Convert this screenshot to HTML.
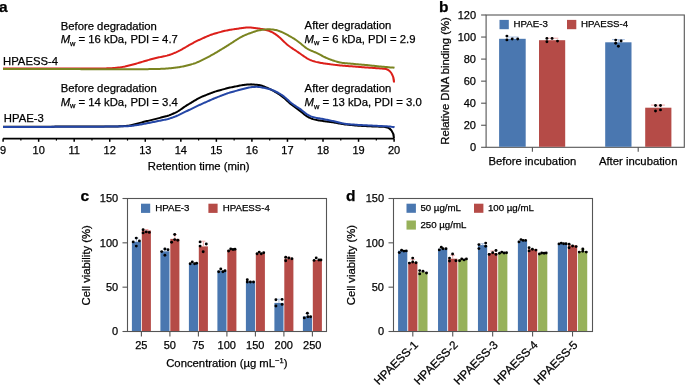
<!DOCTYPE html>
<html><head><meta charset="utf-8"><style>
html,body{margin:0;padding:0;background:#fff;width:685px;height:385px;overflow:hidden}
svg{display:block;will-change:transform}
text{font-family:"Liberation Sans", sans-serif;fill:#000;stroke:#000;stroke-width:0.25px}
</style></head><body>
<svg width="685" height="385" viewBox="0 0 685 385">
<text x="-1.10" y="11.60" font-size="15.5" text-anchor="start" font-weight="bold" >a</text>
<path d="M3.00,68.50 L4.00,68.50 L5.00,68.50 L6.00,68.50 L7.00,68.50 L8.00,68.50 L9.00,68.50 L10.00,68.50 L11.00,68.50 L12.00,68.50 L13.00,68.50 L14.00,68.50 L15.00,68.50 L16.00,68.50 L17.00,68.50 L18.00,68.50 L19.00,68.50 L20.00,68.50 L21.00,68.50 L22.00,68.50 L23.00,68.50 L24.00,68.50 L25.00,68.50 L26.00,68.50 L27.00,68.50 L28.00,68.50 L29.00,68.50 L30.00,68.50 L31.00,68.50 L32.00,68.50 L33.00,68.50 L34.00,68.50 L35.00,68.50 L36.00,68.50 L37.00,68.50 L38.00,68.50 L39.00,68.50 L40.00,68.50 L41.00,68.50 L42.00,68.50 L43.00,68.50 L44.00,68.50 L45.00,68.50 L46.00,68.50 L47.00,68.50 L48.00,68.50 L49.00,68.50 L50.00,68.50 L51.00,68.50 L52.00,68.50 L53.00,68.50 L54.00,68.50 L55.00,68.50 L56.00,68.50 L57.00,68.50 L58.00,68.50 L59.00,68.50 L60.00,68.50 L61.00,68.50 L62.00,68.50 L63.00,68.50 L64.00,68.50 L65.00,68.50 L66.00,68.50 L67.00,68.50 L68.00,68.50 L69.00,68.50 L70.00,68.50 L71.00,68.50 L72.00,68.50 L73.00,68.50 L74.00,68.50 L75.00,68.50 L76.00,68.50 L77.00,68.50 L78.00,68.50 L79.00,68.50 L80.00,68.50 L81.00,68.50 L82.00,68.50 L83.00,68.50 L84.00,68.50 L85.00,68.50 L86.00,68.50 L87.00,68.50 L88.00,68.50 L89.00,68.50 L90.00,68.50 L91.00,68.50 L92.00,68.50 L93.00,68.50 L94.00,68.50 L95.00,68.50 L96.00,68.50 L97.00,68.50 L98.00,68.50 L99.00,68.50 L100.00,68.50 L101.00,68.49 L102.00,68.49 L103.00,68.47 L104.00,68.46 L105.00,68.44 L106.00,68.41 L107.00,68.37 L108.00,68.33 L109.00,68.29 L110.00,68.24 L111.00,68.19 L112.00,68.13 L113.00,68.06 L114.00,67.99 L115.00,67.91 L116.00,67.82 L117.00,67.72 L118.00,67.61 L119.00,67.50 L120.00,67.37 L121.00,67.22 L122.00,67.07 L123.00,66.89 L124.00,66.70 L125.00,66.50 L126.00,66.27 L127.00,66.04 L128.00,65.79 L129.00,65.54 L130.00,65.29 L131.00,65.03 L132.00,64.76 L133.00,64.50 L134.00,64.22 L135.00,63.95 L136.00,63.67 L137.00,63.38 L138.00,63.09 L139.00,62.80 L140.00,62.50 L141.00,62.20 L142.00,61.91 L143.00,61.61 L144.00,61.31 L145.00,61.01 L146.00,60.72 L147.00,60.42 L148.00,60.13 L149.00,59.84 L150.00,59.55 L151.00,59.26 L152.00,58.98 L153.00,58.71 L154.00,58.44 L155.00,58.19 L156.00,57.95 L157.00,57.73 L158.00,57.52 L159.00,57.32 L160.00,57.13 L161.00,56.94 L162.00,56.75 L163.00,56.55 L164.00,56.34 L165.00,56.11 L166.00,55.86 L167.00,55.60 L168.00,55.31 L169.00,55.01 L170.00,54.68 L171.00,54.34 L172.00,53.98 L173.00,53.59 L174.00,53.19 L175.00,52.77 L176.00,52.34 L177.00,51.88 L178.00,51.41 L179.00,50.91 L180.00,50.40 L181.00,49.86 L182.00,49.31 L183.00,48.74 L184.00,48.16 L185.00,47.58 L186.00,46.99 L187.00,46.40 L188.00,45.82 L189.00,45.24 L190.00,44.67 L191.00,44.11 L192.00,43.55 L193.00,43.01 L194.00,42.47 L195.00,41.95 L196.00,41.44 L197.00,40.95 L198.00,40.47 L199.00,40.00 L200.00,39.54 L201.00,39.08 L202.00,38.63 L203.00,38.18 L204.00,37.73 L205.00,37.29 L206.00,36.85 L207.00,36.41 L208.00,35.98 L209.00,35.57 L210.00,35.17 L211.00,34.80 L212.00,34.45 L213.00,34.11 L214.00,33.80 L215.00,33.50 L216.00,33.22 L217.00,32.94 L218.00,32.66 L219.00,32.39 L220.00,32.12 L221.00,31.85 L222.00,31.59 L223.00,31.33 L224.00,31.08 L225.00,30.84 L226.00,30.61 L227.00,30.40 L228.00,30.20 L229.00,30.02 L230.00,29.85 L231.00,29.69 L232.00,29.53 L233.00,29.38 L234.00,29.23 L235.00,29.08 L236.00,28.94 L237.00,28.79 L238.00,28.64 L239.00,28.49 L240.00,28.35 L241.00,28.20 L242.00,28.06 L243.00,27.92 L244.00,27.79 L245.00,27.68 L246.00,27.58 L247.00,27.51 L248.00,27.47 L249.00,27.47 L250.00,27.50 L251.00,27.57 L252.00,27.66 L253.00,27.77 L254.00,27.89 L255.00,28.02 L256.00,28.16 L257.00,28.30 L258.00,28.44 L259.00,28.59 L260.00,28.74 L261.00,28.90 L262.00,29.07 L263.00,29.25 L264.00,29.46 L265.00,29.68 L266.00,29.93 L267.00,30.21 L268.00,30.53 L269.00,30.88 L270.00,31.27 L271.00,31.71 L272.00,32.19 L273.00,32.72 L274.00,33.30 L275.00,33.93 L276.00,34.61 L277.00,35.34 L278.00,36.13 L279.00,36.97 L280.00,37.85 L281.00,38.77 L282.00,39.73 L283.00,40.70 L284.00,41.67 L285.00,42.62 L286.00,43.54 L287.00,44.42 L288.00,45.25 L289.00,46.03 L290.00,46.77 L291.00,47.47 L292.00,48.15 L293.00,48.81 L294.00,49.47 L295.00,50.13 L296.00,50.79 L297.00,51.46 L298.00,52.14 L299.00,52.83 L300.00,53.54 L301.00,54.25 L302.00,54.96 L303.00,55.67 L304.00,56.36 L305.00,57.03 L306.00,57.67 L307.00,58.28 L308.00,58.84 L309.00,59.36 L310.00,59.83 L311.00,60.25 L312.00,60.64 L313.00,60.99 L314.00,61.30 L315.00,61.59 L316.00,61.86 L317.00,62.10 L318.00,62.33 L319.00,62.54 L320.00,62.73 L321.00,62.92 L322.00,63.09 L323.00,63.25 L324.00,63.40 L325.00,63.55 L326.00,63.69 L327.00,63.83 L328.00,63.97 L329.00,64.11 L330.00,64.24 L331.00,64.37 L332.00,64.50 L333.00,64.63 L334.00,64.75 L335.00,64.87 L336.00,64.99 L337.00,65.11 L338.00,65.22 L339.00,65.33 L340.00,65.44 L341.00,65.53 L342.00,65.62 L343.00,65.71 L344.00,65.78 L345.00,65.86 L346.00,65.93 L347.00,66.00 L348.00,66.07 L349.00,66.15 L350.00,66.22 L351.00,66.29 L352.00,66.37 L353.00,66.45 L354.00,66.53 L355.00,66.61 L356.00,66.69 L357.00,66.77 L358.00,66.85 L359.00,66.93 L360.00,67.01 L361.00,67.09 L362.00,67.17 L363.00,67.25 L364.00,67.33 L365.00,67.40 L366.00,67.48 L367.00,67.55 L368.00,67.61 L369.00,67.68 L370.00,67.74 L371.00,67.81 L372.00,67.87 L373.00,67.93 L374.00,68.00 L375.00,68.06 L376.00,68.13 L377.00,68.20 L378.00,68.28 L379.00,68.36 L380.00,68.45 L381.00,68.53 L382.00,68.62 L383.00,68.69 L384.00,68.75 A10,13.6 0 0 1 394.0,82.5" fill="none" stroke="#dc1f1a" stroke-width="2"/>
<path d="M3.00,68.90 L4.00,68.91 L5.00,68.91 L6.00,68.91 L7.00,68.91 L8.00,68.91 L9.00,68.92 L10.00,68.92 L11.00,68.92 L12.00,68.93 L13.00,68.93 L14.00,68.93 L15.00,68.94 L16.00,68.94 L17.00,68.94 L18.00,68.94 L19.00,68.95 L20.00,68.95 L21.00,68.95 L22.00,68.96 L23.00,68.96 L24.00,68.96 L25.00,68.96 L26.00,68.97 L27.00,68.97 L28.00,68.97 L29.00,68.98 L30.00,68.98 L31.00,68.98 L32.00,68.98 L33.00,68.99 L34.00,68.99 L35.00,68.99 L36.00,69.00 L37.00,69.00 L38.00,69.00 L39.00,69.01 L40.00,69.01 L41.00,69.01 L42.00,69.01 L43.00,69.02 L44.00,69.02 L45.00,69.02 L46.00,69.03 L47.00,69.03 L48.00,69.03 L49.00,69.03 L50.00,69.04 L51.00,69.04 L52.00,69.04 L53.00,69.05 L54.00,69.05 L55.00,69.05 L56.00,69.05 L57.00,69.06 L58.00,69.06 L59.00,69.06 L60.00,69.07 L61.00,69.07 L62.00,69.07 L63.00,69.08 L64.00,69.08 L65.00,69.08 L66.00,69.08 L67.00,69.09 L68.00,69.09 L69.00,69.09 L70.00,69.10 L71.00,69.10 L72.00,69.10 L73.00,69.10 L74.00,69.11 L75.00,69.11 L76.00,69.11 L77.00,69.12 L78.00,69.12 L79.00,69.12 L80.00,69.12 L81.00,69.13 L82.00,69.13 L83.00,69.13 L84.00,69.14 L85.00,69.14 L86.00,69.14 L87.00,69.15 L88.00,69.15 L89.00,69.15 L90.00,69.15 L91.00,69.16 L92.00,69.16 L93.00,69.16 L94.00,69.17 L95.00,69.17 L96.00,69.17 L97.00,69.17 L98.00,69.18 L99.00,69.18 L100.00,69.18 L101.00,69.19 L102.00,69.19 L103.00,69.19 L104.00,69.19 L105.00,69.20 L106.00,69.20 L107.00,69.20 L108.00,69.21 L109.00,69.21 L110.00,69.21 L111.00,69.22 L112.00,69.22 L113.00,69.22 L114.00,69.22 L115.00,69.23 L116.00,69.23 L117.00,69.23 L118.00,69.24 L119.00,69.24 L120.00,69.24 L121.00,69.24 L122.00,69.25 L123.00,69.25 L124.00,69.25 L125.00,69.26 L126.00,69.26 L127.00,69.26 L128.00,69.26 L129.00,69.27 L130.00,69.27 L131.00,69.27 L132.00,69.28 L133.00,69.28 L134.00,69.28 L135.00,69.28 L136.00,69.28 L137.00,69.28 L138.00,69.28 L139.00,69.28 L140.00,69.27 L141.00,69.26 L142.00,69.25 L143.00,69.23 L144.00,69.22 L145.00,69.20 L146.00,69.18 L147.00,69.16 L148.00,69.14 L149.00,69.12 L150.00,69.10 L151.00,69.08 L152.00,69.06 L153.00,69.04 L154.00,69.02 L155.00,69.00 L156.00,68.98 L157.00,68.96 L158.00,68.94 L159.00,68.92 L160.00,68.89 L161.00,68.87 L162.00,68.83 L163.00,68.80 L164.00,68.75 L165.00,68.69 L166.00,68.62 L167.00,68.54 L168.00,68.45 L169.00,68.36 L170.00,68.26 L171.00,68.16 L172.00,68.05 L173.00,67.94 L174.00,67.83 L175.00,67.72 L176.00,67.60 L177.00,67.48 L178.00,67.34 L179.00,67.19 L180.00,67.02 L181.00,66.83 L182.00,66.63 L183.00,66.41 L184.00,66.18 L185.00,65.94 L186.00,65.69 L187.00,65.45 L188.00,65.20 L189.00,64.94 L190.00,64.69 L191.00,64.42 L192.00,64.15 L193.00,63.86 L194.00,63.54 L195.00,63.20 L196.00,62.83 L197.00,62.42 L198.00,61.99 L199.00,61.54 L200.00,61.07 L201.00,60.58 L202.00,60.09 L203.00,59.60 L204.00,59.10 L205.00,58.60 L206.00,58.09 L207.00,57.59 L208.00,57.07 L209.00,56.55 L210.00,56.02 L211.00,55.48 L212.00,54.93 L213.00,54.36 L214.00,53.79 L215.00,53.20 L216.00,52.61 L217.00,52.02 L218.00,51.42 L219.00,50.82 L220.00,50.22 L221.00,49.62 L222.00,49.01 L223.00,48.41 L224.00,47.80 L225.00,47.19 L226.00,46.57 L227.00,45.94 L228.00,45.31 L229.00,44.67 L230.00,44.03 L231.00,43.38 L232.00,42.73 L233.00,42.08 L234.00,41.43 L235.00,40.78 L236.00,40.13 L237.00,39.48 L238.00,38.85 L239.00,38.23 L240.00,37.63 L241.00,37.06 L242.00,36.52 L243.00,36.02 L244.00,35.55 L245.00,35.12 L246.00,34.71 L247.00,34.31 L248.00,33.93 L249.00,33.56 L250.00,33.19 L251.00,32.83 L252.00,32.47 L253.00,32.11 L254.00,31.77 L255.00,31.44 L256.00,31.13 L257.00,30.84 L258.00,30.59 L259.00,30.37 L260.00,30.17 L261.00,30.00 L262.00,29.85 L263.00,29.72 L264.00,29.60 L265.00,29.50 L266.00,29.42 L267.00,29.35 L268.00,29.32 L269.00,29.31 L270.00,29.33 L271.00,29.39 L272.00,29.47 L273.00,29.58 L274.00,29.72 L275.00,29.89 L276.00,30.09 L277.00,30.33 L278.00,30.62 L279.00,30.96 L280.00,31.33 L281.00,31.75 L282.00,32.19 L283.00,32.66 L284.00,33.14 L285.00,33.64 L286.00,34.15 L287.00,34.68 L288.00,35.21 L289.00,35.77 L290.00,36.33 L291.00,36.90 L292.00,37.49 L293.00,38.10 L294.00,38.72 L295.00,39.36 L296.00,40.03 L297.00,40.72 L298.00,41.45 L299.00,42.22 L300.00,43.02 L301.00,43.84 L302.00,44.68 L303.00,45.52 L304.00,46.34 L305.00,47.12 L306.00,47.85 L307.00,48.52 L308.00,49.12 L309.00,49.67 L310.00,50.16 L311.00,50.60 L312.00,51.02 L313.00,51.42 L314.00,51.83 L315.00,52.24 L316.00,52.68 L317.00,53.15 L318.00,53.64 L319.00,54.16 L320.00,54.69 L321.00,55.23 L322.00,55.75 L323.00,56.27 L324.00,56.77 L325.00,57.26 L326.00,57.73 L327.00,58.17 L328.00,58.60 L329.00,59.02 L330.00,59.41 L331.00,59.78 L332.00,60.14 L333.00,60.48 L334.00,60.81 L335.00,61.12 L336.00,61.41 L337.00,61.69 L338.00,61.95 L339.00,62.19 L340.00,62.41 L341.00,62.61 L342.00,62.79 L343.00,62.94 L344.00,63.07 L345.00,63.18 L346.00,63.28 L347.00,63.37 L348.00,63.45 L349.00,63.53 L350.00,63.62 L351.00,63.70 L352.00,63.78 L353.00,63.87 L354.00,63.95 L355.00,64.04 L356.00,64.13 L357.00,64.21 L358.00,64.30 L359.00,64.39 L360.00,64.48 L361.00,64.56 L362.00,64.65 L363.00,64.74 L364.00,64.84 L365.00,64.93 L366.00,65.03 L367.00,65.12 L368.00,65.23 L369.00,65.33 L370.00,65.43 L371.00,65.54 L372.00,65.65 L373.00,65.75 L374.00,65.86 L375.00,65.97 L376.00,66.07 L377.00,66.18 L378.00,66.28 L379.00,66.38 L380.00,66.48 L381.00,66.57 L382.00,66.67 L383.00,66.76 L384.00,66.85 L385.00,66.94 L386.00,67.03 L387.00,67.12 L388.00,67.21 L389.00,67.30 L390.00,67.38 L391.00,67.46 L392.00,67.53 L393.00,67.59 L394.00,67.64 L394.50,67.80" fill="none" stroke="#7a8420" stroke-width="2"/>
<path d="M3.00,126.80 L4.00,126.80 L5.00,126.79 L6.00,126.79 L7.00,126.79 L8.00,126.78 L9.00,126.78 L10.00,126.78 L11.00,126.77 L12.00,126.77 L13.00,126.77 L14.00,126.76 L15.00,126.76 L16.00,126.76 L17.00,126.75 L18.00,126.75 L19.00,126.75 L20.00,126.74 L21.00,126.74 L22.00,126.74 L23.00,126.73 L24.00,126.73 L25.00,126.72 L26.00,126.72 L27.00,126.72 L28.00,126.71 L29.00,126.71 L30.00,126.71 L31.00,126.70 L32.00,126.70 L33.00,126.70 L34.00,126.69 L35.00,126.69 L36.00,126.69 L37.00,126.68 L38.00,126.68 L39.00,126.68 L40.00,126.67 L41.00,126.67 L42.00,126.67 L43.00,126.66 L44.00,126.66 L45.00,126.66 L46.00,126.65 L47.00,126.65 L48.00,126.65 L49.00,126.64 L50.00,126.64 L51.00,126.64 L52.00,126.63 L53.00,126.63 L54.00,126.63 L55.00,126.62 L56.00,126.62 L57.00,126.62 L58.00,126.61 L59.00,126.61 L60.00,126.61 L61.00,126.60 L62.00,126.60 L63.00,126.59 L64.00,126.59 L65.00,126.59 L66.00,126.58 L67.00,126.58 L68.00,126.58 L69.00,126.57 L70.00,126.57 L71.00,126.57 L72.00,126.56 L73.00,126.56 L74.00,126.56 L75.00,126.55 L76.00,126.55 L77.00,126.55 L78.00,126.54 L79.00,126.54 L80.00,126.54 L81.00,126.53 L82.00,126.53 L83.00,126.53 L84.00,126.52 L85.00,126.52 L86.00,126.52 L87.00,126.51 L88.00,126.51 L89.00,126.51 L90.00,126.50 L91.00,126.50 L92.00,126.50 L93.00,126.49 L94.00,126.49 L95.00,126.49 L96.00,126.48 L97.00,126.48 L98.00,126.48 L99.00,126.47 L100.00,126.47 L101.00,126.46 L102.00,126.46 L103.00,126.46 L104.00,126.45 L105.00,126.45 L106.00,126.45 L107.00,126.44 L108.00,126.44 L109.00,126.44 L110.00,126.43 L111.00,126.43 L112.00,126.43 L113.00,126.42 L114.00,126.42 L115.00,126.42 L116.00,126.41 L117.00,126.40 L118.00,126.39 L119.00,126.37 L120.00,126.34 L121.00,126.29 L122.00,126.24 L123.00,126.17 L124.00,126.10 L125.00,126.03 L126.00,125.95 L127.00,125.86 L128.00,125.75 L129.00,125.61 L130.00,125.44 L131.00,125.23 L132.00,125.00 L133.00,124.75 L134.00,124.49 L135.00,124.22 L136.00,123.95 L137.00,123.68 L138.00,123.41 L139.00,123.14 L140.00,122.88 L141.00,122.61 L142.00,122.35 L143.00,122.09 L144.00,121.84 L145.00,121.59 L146.00,121.34 L147.00,121.09 L148.00,120.85 L149.00,120.60 L150.00,120.35 L151.00,120.11 L152.00,119.86 L153.00,119.61 L154.00,119.37 L155.00,119.12 L156.00,118.87 L157.00,118.61 L158.00,118.36 L159.00,118.10 L160.00,117.85 L161.00,117.59 L162.00,117.34 L163.00,117.08 L164.00,116.82 L165.00,116.56 L166.00,116.29 L167.00,116.00 L168.00,115.68 L169.00,115.34 L170.00,114.96 L171.00,114.56 L172.00,114.15 L173.00,113.72 L174.00,113.28 L175.00,112.83 L176.00,112.35 L177.00,111.82 L178.00,111.25 L179.00,110.63 L180.00,109.96 L181.00,109.27 L182.00,108.57 L183.00,107.87 L184.00,107.18 L185.00,106.50 L186.00,105.85 L187.00,105.21 L188.00,104.59 L189.00,103.98 L190.00,103.37 L191.00,102.77 L192.00,102.17 L193.00,101.57 L194.00,100.97 L195.00,100.37 L196.00,99.78 L197.00,99.19 L198.00,98.62 L199.00,98.09 L200.00,97.58 L201.00,97.12 L202.00,96.68 L203.00,96.26 L204.00,95.86 L205.00,95.46 L206.00,95.06 L207.00,94.66 L208.00,94.26 L209.00,93.87 L210.00,93.47 L211.00,93.08 L212.00,92.70 L213.00,92.33 L214.00,91.98 L215.00,91.65 L216.00,91.34 L217.00,91.05 L218.00,90.76 L219.00,90.49 L220.00,90.21 L221.00,89.94 L222.00,89.66 L223.00,89.39 L224.00,89.12 L225.00,88.84 L226.00,88.58 L227.00,88.31 L228.00,88.06 L229.00,87.82 L230.00,87.59 L231.00,87.38 L232.00,87.17 L233.00,86.97 L234.00,86.77 L235.00,86.57 L236.00,86.37 L237.00,86.17 L238.00,85.97 L239.00,85.78 L240.00,85.58 L241.00,85.39 L242.00,85.21 L243.00,85.05 L244.00,84.91 L245.00,84.78 L246.00,84.67 L247.00,84.57 L248.00,84.48 L249.00,84.42 L250.00,84.38 L251.00,84.37 L252.00,84.40 L253.00,84.46 L254.00,84.54 L255.00,84.63 L256.00,84.72 L257.00,84.83 L258.00,84.95 L259.00,85.09 L260.00,85.27 L261.00,85.50 L262.00,85.80 L263.00,86.14 L264.00,86.52 L265.00,86.92 L266.00,87.34 L267.00,87.76 L268.00,88.19 L269.00,88.64 L270.00,89.11 L271.00,89.60 L272.00,90.11 L273.00,90.65 L274.00,91.20 L275.00,91.77 L276.00,92.35 L277.00,92.96 L278.00,93.58 L279.00,94.23 L280.00,94.91 L281.00,95.63 L282.00,96.38 L283.00,97.16 L284.00,97.98 L285.00,98.83 L286.00,99.73 L287.00,100.65 L288.00,101.59 L289.00,102.52 L290.00,103.41 L291.00,104.26 L292.00,105.06 L293.00,105.82 L294.00,106.54 L295.00,107.25 L296.00,107.96 L297.00,108.67 L298.00,109.38 L299.00,110.12 L300.00,110.88 L301.00,111.66 L302.00,112.48 L303.00,113.32 L304.00,114.15 L305.00,114.95 L306.00,115.70 L307.00,116.37 L308.00,116.96 L309.00,117.49 L310.00,117.96 L311.00,118.38 L312.00,118.76 L313.00,119.09 L314.00,119.38 L315.00,119.64 L316.00,119.87 L317.00,120.08 L318.00,120.26 L319.00,120.42 L320.00,120.57 L321.00,120.71 L322.00,120.86 L323.00,121.01 L324.00,121.15 L325.00,121.30 L326.00,121.45 L327.00,121.59 L328.00,121.72 L329.00,121.85 L330.00,121.98 L331.00,122.11 L332.00,122.24 L333.00,122.37 L334.00,122.51 L335.00,122.67 L336.00,122.83 L337.00,123.02 L338.00,123.21 L339.00,123.40 L340.00,123.59 L341.00,123.78 L342.00,123.96 L343.00,124.12 L344.00,124.26 L345.00,124.39 L346.00,124.50 L347.00,124.61 L348.00,124.71 L349.00,124.82 L350.00,124.92 L351.00,125.02 L352.00,125.12 L353.00,125.23 L354.00,125.33 L355.00,125.43 L356.00,125.52 L357.00,125.60 L358.00,125.68 L359.00,125.75 L360.00,125.81 L361.00,125.86 L362.00,125.91 L363.00,125.96 L364.00,126.01 L365.00,126.06 L366.00,126.11 L367.00,126.15 L368.00,126.20 L369.00,126.25 L370.00,126.29 L371.00,126.34 L372.00,126.38 L373.00,126.42 L374.00,126.46 L375.00,126.50 L376.00,126.54 L377.00,126.58 L378.00,126.62 L379.00,126.66 L380.00,126.70 L381.00,126.74 L382.00,126.77 L383.00,126.81 L384.00,126.83 L384.90,126.90 A9,11 0 0 1 393.9,138.3" fill="none" stroke="#000" stroke-width="2"/>
<path d="M3.00,127.10 L4.00,127.09 L5.00,127.09 L6.00,127.09 L7.00,127.08 L8.00,127.08 L9.00,127.07 L10.00,127.07 L11.00,127.06 L12.00,127.06 L13.00,127.05 L14.00,127.05 L15.00,127.04 L16.00,127.04 L17.00,127.03 L18.00,127.03 L19.00,127.03 L20.00,127.02 L21.00,127.02 L22.00,127.01 L23.00,127.01 L24.00,127.00 L25.00,127.00 L26.00,126.99 L27.00,126.99 L28.00,126.98 L29.00,126.98 L30.00,126.97 L31.00,126.97 L32.00,126.96 L33.00,126.96 L34.00,126.96 L35.00,126.95 L36.00,126.95 L37.00,126.94 L38.00,126.94 L39.00,126.93 L40.00,126.93 L41.00,126.92 L42.00,126.92 L43.00,126.91 L44.00,126.91 L45.00,126.90 L46.00,126.90 L47.00,126.89 L48.00,126.89 L49.00,126.89 L50.00,126.88 L51.00,126.88 L52.00,126.87 L53.00,126.87 L54.00,126.86 L55.00,126.86 L56.00,126.85 L57.00,126.85 L58.00,126.84 L59.00,126.84 L60.00,126.83 L61.00,126.83 L62.00,126.82 L63.00,126.82 L64.00,126.81 L65.00,126.81 L66.00,126.81 L67.00,126.80 L68.00,126.80 L69.00,126.79 L70.00,126.79 L71.00,126.78 L72.00,126.78 L73.00,126.77 L74.00,126.77 L75.00,126.76 L76.00,126.76 L77.00,126.75 L78.00,126.75 L79.00,126.74 L80.00,126.74 L81.00,126.74 L82.00,126.73 L83.00,126.73 L84.00,126.72 L85.00,126.72 L86.00,126.71 L87.00,126.71 L88.00,126.70 L89.00,126.70 L90.00,126.69 L91.00,126.69 L92.00,126.68 L93.00,126.68 L94.00,126.67 L95.00,126.67 L96.00,126.67 L97.00,126.66 L98.00,126.66 L99.00,126.65 L100.00,126.65 L101.00,126.64 L102.00,126.64 L103.00,126.63 L104.00,126.63 L105.00,126.62 L106.00,126.62 L107.00,126.61 L108.00,126.61 L109.00,126.60 L110.00,126.59 L111.00,126.57 L112.00,126.56 L113.00,126.54 L114.00,126.52 L115.00,126.50 L116.00,126.48 L117.00,126.46 L118.00,126.44 L119.00,126.42 L120.00,126.39 L121.00,126.37 L122.00,126.35 L123.00,126.33 L124.00,126.31 L125.00,126.29 L126.00,126.26 L127.00,126.23 L128.00,126.19 L129.00,126.12 L130.00,126.04 L131.00,125.93 L132.00,125.80 L133.00,125.65 L134.00,125.51 L135.00,125.35 L136.00,125.20 L137.00,125.05 L138.00,124.89 L139.00,124.74 L140.00,124.58 L141.00,124.42 L142.00,124.25 L143.00,124.07 L144.00,123.88 L145.00,123.69 L146.00,123.50 L147.00,123.30 L148.00,123.10 L149.00,122.90 L150.00,122.70 L151.00,122.50 L152.00,122.30 L153.00,122.10 L154.00,121.90 L155.00,121.70 L156.00,121.50 L157.00,121.30 L158.00,121.10 L159.00,120.89 L160.00,120.69 L161.00,120.49 L162.00,120.29 L163.00,120.09 L164.00,119.88 L165.00,119.68 L166.00,119.46 L167.00,119.23 L168.00,118.97 L169.00,118.68 L170.00,118.37 L171.00,118.04 L172.00,117.69 L173.00,117.33 L174.00,116.96 L175.00,116.59 L176.00,116.20 L177.00,115.79 L178.00,115.36 L179.00,114.90 L180.00,114.43 L181.00,113.94 L182.00,113.45 L183.00,112.95 L184.00,112.46 L185.00,111.96 L186.00,111.47 L187.00,110.98 L188.00,110.50 L189.00,110.02 L190.00,109.53 L191.00,109.05 L192.00,108.57 L193.00,108.08 L194.00,107.60 L195.00,107.12 L196.00,106.64 L197.00,106.16 L198.00,105.68 L199.00,105.21 L200.00,104.75 L201.00,104.29 L202.00,103.84 L203.00,103.39 L204.00,102.94 L205.00,102.50 L206.00,102.05 L207.00,101.61 L208.00,101.16 L209.00,100.72 L210.00,100.27 L211.00,99.83 L212.00,99.39 L213.00,98.96 L214.00,98.54 L215.00,98.13 L216.00,97.73 L217.00,97.33 L218.00,96.94 L219.00,96.56 L220.00,96.18 L221.00,95.79 L222.00,95.41 L223.00,95.02 L224.00,94.64 L225.00,94.26 L226.00,93.89 L227.00,93.52 L228.00,93.17 L229.00,92.84 L230.00,92.53 L231.00,92.23 L232.00,91.95 L233.00,91.68 L234.00,91.41 L235.00,91.14 L236.00,90.88 L237.00,90.61 L238.00,90.34 L239.00,90.08 L240.00,89.81 L241.00,89.54 L242.00,89.28 L243.00,89.02 L244.00,88.76 L245.00,88.51 L246.00,88.26 L247.00,88.02 L248.00,87.79 L249.00,87.57 L250.00,87.38 L251.00,87.23 L252.00,87.10 L253.00,87.01 L254.00,86.94 L255.00,86.89 L256.00,86.86 L257.00,86.87 L258.00,86.91 L259.00,87.00 L260.00,87.13 L261.00,87.30 L262.00,87.47 L263.00,87.66 L264.00,87.85 L265.00,88.04 L266.00,88.24 L267.00,88.45 L268.00,88.67 L269.00,88.92 L270.00,89.21 L271.00,89.55 L272.00,89.94 L273.00,90.35 L274.00,90.79 L275.00,91.25 L276.00,91.73 L277.00,92.23 L278.00,92.74 L279.00,93.29 L280.00,93.87 L281.00,94.49 L282.00,95.15 L283.00,95.86 L284.00,96.61 L285.00,97.42 L286.00,98.27 L287.00,99.17 L288.00,100.10 L289.00,101.02 L290.00,101.91 L291.00,102.76 L292.00,103.56 L293.00,104.30 L294.00,105.01 L295.00,105.69 L296.00,106.34 L297.00,106.98 L298.00,107.62 L299.00,108.26 L300.00,108.94 L301.00,109.66 L302.00,110.43 L303.00,111.24 L304.00,112.06 L305.00,112.86 L306.00,113.61 L307.00,114.29 L308.00,114.90 L309.00,115.44 L310.00,115.92 L311.00,116.35 L312.00,116.72 L313.00,117.05 L314.00,117.33 L315.00,117.58 L316.00,117.80 L317.00,117.99 L318.00,118.17 L319.00,118.33 L320.00,118.49 L321.00,118.65 L322.00,118.82 L323.00,119.00 L324.00,119.20 L325.00,119.40 L326.00,119.61 L327.00,119.82 L328.00,120.03 L329.00,120.24 L330.00,120.45 L331.00,120.66 L332.00,120.87 L333.00,121.09 L334.00,121.30 L335.00,121.53 L336.00,121.75 L337.00,121.99 L338.00,122.22 L339.00,122.46 L340.00,122.70 L341.00,122.94 L342.00,123.17 L343.00,123.39 L344.00,123.59 L345.00,123.76 L346.00,123.91 L347.00,124.03 L348.00,124.13 L349.00,124.21 L350.00,124.30 L351.00,124.38 L352.00,124.46 L353.00,124.53 L354.00,124.61 L355.00,124.69 L356.00,124.76 L357.00,124.83 L358.00,124.90 L359.00,124.96 L360.00,125.01 L361.00,125.06 L362.00,125.11 L363.00,125.16 L364.00,125.21 L365.00,125.26 L366.00,125.31 L367.00,125.35 L368.00,125.40 L369.00,125.45 L370.00,125.50 L371.00,125.55 L372.00,125.60 L373.00,125.65 L374.00,125.69 L375.00,125.74 L376.00,125.79 L377.00,125.84 L378.00,125.89 L379.00,125.94 L380.00,125.98 L381.00,126.03 L382.00,126.08 L383.00,126.13 L384.00,126.18 L385.00,126.23 L386.00,126.28 L387.00,126.34 L388.00,126.40 L389.00,126.48 L390.00,126.58 L391.00,126.72 L392.00,126.88 L393.00,127.05 L394.00,127.21 L394.30,127.60" fill="none" stroke="#2446a6" stroke-width="2"/>
<line x1="3.10" y1="138.60" x2="394.10" y2="138.60" stroke="#000" stroke-width="1.8"/>
<line x1="3.10" y1="138.60" x2="3.10" y2="141.80" stroke="#000" stroke-width="1.5"/>
<text x="3.10" y="154.20" font-size="11" text-anchor="middle" font-weight="normal" >9</text>
<line x1="20.87" y1="138.60" x2="20.87" y2="140.60" stroke="#000" stroke-width="1.2"/>
<line x1="38.65" y1="138.60" x2="38.65" y2="141.80" stroke="#000" stroke-width="1.5"/>
<text x="38.65" y="154.20" font-size="11" text-anchor="middle" font-weight="normal" >10</text>
<line x1="56.42" y1="138.60" x2="56.42" y2="140.60" stroke="#000" stroke-width="1.2"/>
<line x1="74.19" y1="138.60" x2="74.19" y2="141.80" stroke="#000" stroke-width="1.5"/>
<text x="74.19" y="154.20" font-size="11" text-anchor="middle" font-weight="normal" >11</text>
<line x1="91.96" y1="138.60" x2="91.96" y2="140.60" stroke="#000" stroke-width="1.2"/>
<line x1="109.73" y1="138.60" x2="109.73" y2="141.80" stroke="#000" stroke-width="1.5"/>
<text x="109.73" y="154.20" font-size="11" text-anchor="middle" font-weight="normal" >12</text>
<line x1="127.51" y1="138.60" x2="127.51" y2="140.60" stroke="#000" stroke-width="1.2"/>
<line x1="145.28" y1="138.60" x2="145.28" y2="141.80" stroke="#000" stroke-width="1.5"/>
<text x="145.28" y="154.20" font-size="11" text-anchor="middle" font-weight="normal" >13</text>
<line x1="163.05" y1="138.60" x2="163.05" y2="140.60" stroke="#000" stroke-width="1.2"/>
<line x1="180.83" y1="138.60" x2="180.83" y2="141.80" stroke="#000" stroke-width="1.5"/>
<text x="180.83" y="154.20" font-size="11" text-anchor="middle" font-weight="normal" >14</text>
<line x1="198.60" y1="138.60" x2="198.60" y2="140.60" stroke="#000" stroke-width="1.2"/>
<line x1="216.37" y1="138.60" x2="216.37" y2="141.80" stroke="#000" stroke-width="1.5"/>
<text x="216.37" y="154.20" font-size="11" text-anchor="middle" font-weight="normal" >15</text>
<line x1="234.14" y1="138.60" x2="234.14" y2="140.60" stroke="#000" stroke-width="1.2"/>
<line x1="251.91" y1="138.60" x2="251.91" y2="141.80" stroke="#000" stroke-width="1.5"/>
<text x="251.91" y="154.20" font-size="11" text-anchor="middle" font-weight="normal" >16</text>
<line x1="269.69" y1="138.60" x2="269.69" y2="140.60" stroke="#000" stroke-width="1.2"/>
<line x1="287.46" y1="138.60" x2="287.46" y2="141.80" stroke="#000" stroke-width="1.5"/>
<text x="287.46" y="154.20" font-size="11" text-anchor="middle" font-weight="normal" >17</text>
<line x1="305.23" y1="138.60" x2="305.23" y2="140.60" stroke="#000" stroke-width="1.2"/>
<line x1="323.01" y1="138.60" x2="323.01" y2="141.80" stroke="#000" stroke-width="1.5"/>
<text x="323.01" y="154.20" font-size="11" text-anchor="middle" font-weight="normal" >18</text>
<line x1="340.78" y1="138.60" x2="340.78" y2="140.60" stroke="#000" stroke-width="1.2"/>
<line x1="358.55" y1="138.60" x2="358.55" y2="141.80" stroke="#000" stroke-width="1.5"/>
<text x="358.55" y="154.20" font-size="11" text-anchor="middle" font-weight="normal" >19</text>
<line x1="376.32" y1="138.60" x2="376.32" y2="140.60" stroke="#000" stroke-width="1.2"/>
<line x1="394.10" y1="138.60" x2="394.10" y2="141.80" stroke="#000" stroke-width="1.5"/>
<text x="394.10" y="154.20" font-size="11" text-anchor="middle" font-weight="normal" >20</text>
<text x="198.60" y="170.20" font-size="11.3" text-anchor="middle" font-weight="normal" >Retention time (min)</text>
<text x="60.70" y="30.00" font-size="11.3" text-anchor="start" font-weight="normal" >Before degradation</text>
<text x="60.70" y="43.30" font-size="11.3"><tspan font-style="italic">M</tspan><tspan font-size="7.4" dy="2.8">w</tspan><tspan dy="-2.8"> = 16 kDa, PDI = 4.7</tspan></text>
<text x="304.60" y="29.40" font-size="11.3" text-anchor="start" font-weight="normal" >After degradation</text>
<text x="304.60" y="42.60" font-size="11.3"><tspan font-style="italic">M</tspan><tspan font-size="7.4" dy="2.8">w</tspan><tspan dy="-2.8"> = 6 kDa, PDI = 2.9</tspan></text>
<text x="60.70" y="92.30" font-size="11.3" text-anchor="start" font-weight="normal" >Before degradation</text>
<text x="60.70" y="105.50" font-size="11.3"><tspan font-style="italic">M</tspan><tspan font-size="7.4" dy="2.8">w</tspan><tspan dy="-2.8"> = 14 kDa, PDI = 3.4</tspan></text>
<text x="304.60" y="92.30" font-size="11.3" text-anchor="start" font-weight="normal" >After degradation</text>
<text x="304.60" y="106.10" font-size="11.3"><tspan font-style="italic">M</tspan><tspan font-size="7.4" dy="2.8">w</tspan><tspan dy="-2.8"> = 13 kDa, PDI = 3.0</tspan></text>
<text x="3.00" y="64.50" font-size="11.3" text-anchor="start" font-weight="normal" >HPAESS-4</text>
<text x="3.80" y="122.20" font-size="11.3" text-anchor="start" font-weight="normal" >HPAE-3</text>
<text x="439.00" y="11.60" font-size="15.5" text-anchor="start" font-weight="bold" >b</text>
<rect x="486.10" y="15.00" width="198.20" height="132.30" fill="none" stroke="#555" stroke-width="1.1"/>
<line x1="481.10" y1="147.30" x2="486.10" y2="147.30" stroke="#555" stroke-width="1.1"/>
<text x="476.00" y="151.10" font-size="11" text-anchor="end" font-weight="normal" >0</text>
<line x1="481.10" y1="125.25" x2="486.10" y2="125.25" stroke="#555" stroke-width="1.1"/>
<text x="476.00" y="129.05" font-size="11" text-anchor="end" font-weight="normal" >20</text>
<line x1="481.10" y1="103.20" x2="486.10" y2="103.20" stroke="#555" stroke-width="1.1"/>
<text x="476.00" y="107.00" font-size="11" text-anchor="end" font-weight="normal" >40</text>
<line x1="481.10" y1="81.15" x2="486.10" y2="81.15" stroke="#555" stroke-width="1.1"/>
<text x="476.00" y="84.95" font-size="11" text-anchor="end" font-weight="normal" >60</text>
<line x1="481.10" y1="59.10" x2="486.10" y2="59.10" stroke="#555" stroke-width="1.1"/>
<text x="476.00" y="62.90" font-size="11" text-anchor="end" font-weight="normal" >80</text>
<line x1="481.10" y1="37.05" x2="486.10" y2="37.05" stroke="#555" stroke-width="1.1"/>
<text x="476.00" y="40.85" font-size="11" text-anchor="end" font-weight="normal" >100</text>
<line x1="481.10" y1="15.00" x2="486.10" y2="15.00" stroke="#555" stroke-width="1.1"/>
<text x="476.00" y="18.80" font-size="11" text-anchor="end" font-weight="normal" >120</text>
<text transform="translate(449.3,80.9) rotate(-90)" font-size="11.3" text-anchor="middle">Relative DNA binding (%)</text>
<line x1="532.40" y1="147.30" x2="532.40" y2="151.80" stroke="#555" stroke-width="1.1"/>
<line x1="638.20" y1="147.30" x2="638.20" y2="151.80" stroke="#555" stroke-width="1.1"/>
<text x="532.40" y="165.30" font-size="11.3" text-anchor="middle" font-weight="normal" >Before incubation</text>
<text x="638.20" y="165.30" font-size="11.3" text-anchor="middle" font-weight="normal" >After incubation</text>
<rect x="499.50" y="19.90" width="9.30" height="9.30" fill="#4a77b0"/>
<text x="513.50" y="27.20" font-size="9.7" text-anchor="start" font-weight="normal" >HPAE-3</text>
<rect x="567.00" y="19.90" width="9.30" height="9.30" fill="#b54b47"/>
<text x="581.00" y="27.20" font-size="9.7" text-anchor="start" font-weight="normal" >HPAESS-4</text>
<rect x="499.10" y="38.80" width="26.60" height="108.00" fill="#4a77b0"/>
<line x1="513.05" y1="37.00" x2="513.05" y2="38.80" stroke="#a9c1e3" stroke-width="1"/>
<line x1="507.50" y1="37.00" x2="518.60" y2="37.00" stroke="#a9c1e3" stroke-width="1"/>
<circle cx="506.90" cy="36.10" r="1.45" fill="#000"/>
<circle cx="506.90" cy="39.90" r="1.45" fill="#000"/>
<circle cx="512.20" cy="39.00" r="1.45" fill="#000"/>
<circle cx="517.70" cy="39.00" r="1.45" fill="#000"/>
<rect x="539.00" y="40.20" width="26.20" height="106.60" fill="#b54b47"/>
<line x1="552.15" y1="38.20" x2="552.15" y2="40.20" stroke="#f0a8a8" stroke-width="1"/>
<line x1="546.00" y1="38.20" x2="558.30" y2="38.20" stroke="#f0a8a8" stroke-width="1"/>
<circle cx="546.90" cy="38.40" r="1.45" fill="#000"/>
<circle cx="546.90" cy="41.70" r="1.45" fill="#000"/>
<circle cx="552.10" cy="38.40" r="1.45" fill="#000"/>
<circle cx="557.50" cy="41.10" r="1.45" fill="#000"/>
<rect x="605.20" y="42.30" width="26.30" height="104.50" fill="#4a77b0"/>
<line x1="618.40" y1="39.60" x2="618.40" y2="42.30" stroke="#a9c1e3" stroke-width="1"/>
<line x1="612.00" y1="39.60" x2="624.80" y2="39.60" stroke="#a9c1e3" stroke-width="1"/>
<circle cx="615.70" cy="40.10" r="1.45" fill="#000"/>
<circle cx="621.10" cy="41.00" r="1.45" fill="#000"/>
<circle cx="615.70" cy="43.20" r="1.45" fill="#000"/>
<circle cx="618.40" cy="46.20" r="1.45" fill="#000"/>
<rect x="645.20" y="107.70" width="26.20" height="39.10" fill="#b54b47"/>
<line x1="657.90" y1="105.10" x2="657.90" y2="107.70" stroke="#f0a8a8" stroke-width="1"/>
<line x1="650.90" y1="105.10" x2="664.90" y2="105.10" stroke="#f0a8a8" stroke-width="1"/>
<circle cx="655.50" cy="105.50" r="1.45" fill="#000"/>
<circle cx="660.50" cy="105.50" r="1.45" fill="#000"/>
<circle cx="655.50" cy="111.00" r="1.45" fill="#000"/>
<circle cx="660.50" cy="109.90" r="1.45" fill="#000"/>
<text x="80.50" y="201.10" font-size="15.5" text-anchor="start" font-weight="bold" >c</text>
<rect x="127.50" y="198.50" width="199.00" height="133.00" fill="none" stroke="#555" stroke-width="1.1"/>
<line x1="122.50" y1="331.50" x2="127.50" y2="331.50" stroke="#555" stroke-width="1.1"/>
<text x="118.20" y="335.30" font-size="11" text-anchor="end" font-weight="normal" >0</text>
<line x1="122.50" y1="287.17" x2="127.50" y2="287.17" stroke="#555" stroke-width="1.1"/>
<text x="118.20" y="290.97" font-size="11" text-anchor="end" font-weight="normal" >50</text>
<line x1="122.50" y1="242.83" x2="127.50" y2="242.83" stroke="#555" stroke-width="1.1"/>
<text x="118.20" y="246.63" font-size="11" text-anchor="end" font-weight="normal" >100</text>
<line x1="122.50" y1="198.50" x2="127.50" y2="198.50" stroke="#555" stroke-width="1.1"/>
<text x="118.20" y="202.30" font-size="11" text-anchor="end" font-weight="normal" >150</text>
<text transform="translate(89.5,265.3) rotate(-90)" font-size="11.3" text-anchor="middle">Cell viability (%)</text>
<text x="226.80" y="366.70" font-size="11.3" text-anchor="middle" font-weight="normal" >Concentration (µg mL<tspan font-size="7.5" dy="-4">−1</tspan><tspan dy="4">)</tspan></text>
<rect x="141.00" y="203.70" width="9.20" height="9.20" fill="#4a77b0"/>
<text x="155.20" y="211.10" font-size="9.7" text-anchor="start" font-weight="normal" >HPAE-3</text>
<rect x="208.40" y="203.70" width="9.20" height="9.20" fill="#b54b47"/>
<text x="222.70" y="211.10" font-size="9.7" text-anchor="start" font-weight="normal" >HPAESS-4</text>
<rect x="131.90" y="241.70" width="9.10" height="89.30" fill="#4a77b0"/>
<line x1="136.45" y1="238.10" x2="136.45" y2="241.70" stroke="#a9c1e3" stroke-width="1"/>
<line x1="134.40" y1="238.10" x2="138.50" y2="238.10" stroke="#a9c1e3" stroke-width="1"/>
<circle cx="133.20" cy="241.90" r="1.45" fill="#000"/>
<circle cx="136.30" cy="238.10" r="1.45" fill="#000"/>
<circle cx="139.40" cy="240.90" r="1.45" fill="#000"/>
<circle cx="136.30" cy="246.10" r="1.45" fill="#000"/>
<rect x="141.80" y="230.50" width="9.10" height="100.50" fill="#b54b47"/>
<line x1="146.35" y1="229.50" x2="146.35" y2="230.50" stroke="#f0a8a8" stroke-width="1"/>
<line x1="144.30" y1="229.50" x2="148.40" y2="229.50" stroke="#f0a8a8" stroke-width="1"/>
<circle cx="143.10" cy="229.80" r="1.45" fill="#000"/>
<circle cx="143.10" cy="232.90" r="1.45" fill="#000"/>
<circle cx="146.20" cy="231.90" r="1.45" fill="#000"/>
<circle cx="149.30" cy="232.40" r="1.45" fill="#000"/>
<text x="141.30" y="349.00" font-size="11" text-anchor="middle" font-weight="normal" >25</text>
<line x1="141.40" y1="331.50" x2="141.40" y2="336.50" stroke="#555" stroke-width="1.1"/>
<rect x="160.40" y="251.30" width="9.10" height="79.70" fill="#4a77b0"/>
<line x1="164.95" y1="249.00" x2="164.95" y2="251.30" stroke="#a9c1e3" stroke-width="1"/>
<line x1="162.90" y1="249.00" x2="167.00" y2="249.00" stroke="#a9c1e3" stroke-width="1"/>
<circle cx="161.70" cy="251.60" r="1.45" fill="#000"/>
<circle cx="164.90" cy="249.00" r="1.45" fill="#000"/>
<circle cx="168.00" cy="249.80" r="1.45" fill="#000"/>
<circle cx="164.90" cy="255.20" r="1.45" fill="#000"/>
<rect x="170.30" y="238.90" width="9.10" height="92.10" fill="#b54b47"/>
<line x1="174.85" y1="234.50" x2="174.85" y2="238.90" stroke="#f0a8a8" stroke-width="1"/>
<line x1="172.80" y1="234.50" x2="176.90" y2="234.50" stroke="#f0a8a8" stroke-width="1"/>
<circle cx="171.60" cy="242.20" r="1.45" fill="#000"/>
<circle cx="174.70" cy="234.50" r="1.45" fill="#000"/>
<circle cx="174.70" cy="239.60" r="1.45" fill="#000"/>
<circle cx="177.80" cy="240.20" r="1.45" fill="#000"/>
<text x="169.80" y="349.00" font-size="11" text-anchor="middle" font-weight="normal" >50</text>
<line x1="169.90" y1="331.50" x2="169.90" y2="336.50" stroke="#555" stroke-width="1.1"/>
<rect x="188.90" y="263.50" width="9.10" height="67.50" fill="#4a77b0"/>
<circle cx="190.20" cy="263.80" r="1.45" fill="#000"/>
<circle cx="192.30" cy="262.00" r="1.45" fill="#000"/>
<circle cx="194.60" cy="263.80" r="1.45" fill="#000"/>
<circle cx="196.60" cy="263.20" r="1.45" fill="#000"/>
<rect x="198.80" y="246.40" width="9.10" height="84.60" fill="#b54b47"/>
<line x1="203.35" y1="241.20" x2="203.35" y2="246.40" stroke="#f0a8a8" stroke-width="1"/>
<line x1="201.30" y1="241.20" x2="205.40" y2="241.20" stroke="#f0a8a8" stroke-width="1"/>
<circle cx="200.10" cy="241.90" r="1.45" fill="#000"/>
<circle cx="200.10" cy="246.10" r="1.45" fill="#000"/>
<circle cx="206.30" cy="244.00" r="1.45" fill="#000"/>
<circle cx="203.20" cy="251.80" r="1.45" fill="#000"/>
<text x="198.30" y="349.00" font-size="11" text-anchor="middle" font-weight="normal" >75</text>
<line x1="198.40" y1="331.50" x2="198.40" y2="336.50" stroke="#555" stroke-width="1.1"/>
<rect x="217.40" y="270.80" width="9.10" height="60.20" fill="#4a77b0"/>
<circle cx="218.70" cy="271.80" r="1.45" fill="#000"/>
<circle cx="220.80" cy="269.00" r="1.45" fill="#000"/>
<circle cx="222.90" cy="271.80" r="1.45" fill="#000"/>
<circle cx="225.00" cy="270.80" r="1.45" fill="#000"/>
<rect x="227.30" y="250.00" width="9.10" height="81.00" fill="#b54b47"/>
<circle cx="228.60" cy="251.00" r="1.45" fill="#000"/>
<circle cx="230.70" cy="249.00" r="1.45" fill="#000"/>
<circle cx="233.00" cy="249.50" r="1.45" fill="#000"/>
<circle cx="235.00" cy="249.30" r="1.45" fill="#000"/>
<text x="226.80" y="349.00" font-size="11" text-anchor="middle" font-weight="normal" >100</text>
<line x1="226.90" y1="331.50" x2="226.90" y2="336.50" stroke="#555" stroke-width="1.1"/>
<rect x="245.90" y="281.50" width="9.10" height="49.50" fill="#4a77b0"/>
<circle cx="247.30" cy="279.80" r="1.45" fill="#000"/>
<circle cx="247.30" cy="282.00" r="1.45" fill="#000"/>
<circle cx="250.40" cy="282.00" r="1.45" fill="#000"/>
<circle cx="253.50" cy="282.00" r="1.45" fill="#000"/>
<rect x="255.80" y="253.30" width="9.10" height="77.70" fill="#b54b47"/>
<circle cx="257.10" cy="253.80" r="1.45" fill="#000"/>
<circle cx="259.20" cy="252.10" r="1.45" fill="#000"/>
<circle cx="261.30" cy="253.80" r="1.45" fill="#000"/>
<circle cx="263.70" cy="252.80" r="1.45" fill="#000"/>
<text x="255.30" y="349.00" font-size="11" text-anchor="middle" font-weight="normal" >150</text>
<line x1="255.40" y1="331.50" x2="255.40" y2="336.50" stroke="#555" stroke-width="1.1"/>
<rect x="274.40" y="302.90" width="9.10" height="28.10" fill="#4a77b0"/>
<line x1="278.95" y1="299.20" x2="278.95" y2="302.90" stroke="#a9c1e3" stroke-width="1"/>
<line x1="276.90" y1="299.20" x2="281.00" y2="299.20" stroke="#a9c1e3" stroke-width="1"/>
<circle cx="275.90" cy="299.80" r="1.45" fill="#000"/>
<circle cx="282.10" cy="299.40" r="1.45" fill="#000"/>
<circle cx="275.90" cy="306.00" r="1.45" fill="#000"/>
<circle cx="282.10" cy="304.40" r="1.45" fill="#000"/>
<rect x="284.30" y="258.50" width="9.10" height="72.50" fill="#b54b47"/>
<line x1="288.85" y1="257.30" x2="288.85" y2="258.50" stroke="#f0a8a8" stroke-width="1"/>
<line x1="286.80" y1="257.30" x2="290.90" y2="257.30" stroke="#f0a8a8" stroke-width="1"/>
<circle cx="285.70" cy="257.30" r="1.45" fill="#000"/>
<circle cx="285.70" cy="260.80" r="1.45" fill="#000"/>
<circle cx="288.80" cy="258.00" r="1.45" fill="#000"/>
<circle cx="291.90" cy="258.70" r="1.45" fill="#000"/>
<text x="283.80" y="349.00" font-size="11" text-anchor="middle" font-weight="normal" >200</text>
<line x1="283.90" y1="331.50" x2="283.90" y2="336.50" stroke="#555" stroke-width="1.1"/>
<rect x="302.90" y="316.40" width="9.10" height="14.60" fill="#4a77b0"/>
<line x1="307.45" y1="313.50" x2="307.45" y2="316.40" stroke="#a9c1e3" stroke-width="1"/>
<line x1="305.40" y1="313.50" x2="309.50" y2="313.50" stroke="#a9c1e3" stroke-width="1"/>
<circle cx="304.30" cy="317.90" r="1.45" fill="#000"/>
<circle cx="307.40" cy="313.30" r="1.45" fill="#000"/>
<circle cx="307.90" cy="316.80" r="1.45" fill="#000"/>
<circle cx="310.60" cy="316.80" r="1.45" fill="#000"/>
<rect x="312.80" y="260.00" width="9.10" height="71.00" fill="#b54b47"/>
<circle cx="314.10" cy="260.40" r="1.45" fill="#000"/>
<circle cx="316.20" cy="257.90" r="1.45" fill="#000"/>
<circle cx="318.90" cy="260.00" r="1.45" fill="#000"/>
<circle cx="320.90" cy="260.00" r="1.45" fill="#000"/>
<text x="312.30" y="349.00" font-size="11" text-anchor="middle" font-weight="normal" >250</text>
<line x1="312.40" y1="331.50" x2="312.40" y2="336.50" stroke="#555" stroke-width="1.1"/>
<text x="346.00" y="200.80" font-size="15.5" text-anchor="start" font-weight="bold" >d</text>
<rect x="393.50" y="198.50" width="199.00" height="133.00" fill="none" stroke="#555" stroke-width="1.1"/>
<line x1="388.50" y1="331.50" x2="393.50" y2="331.50" stroke="#555" stroke-width="1.1"/>
<text x="384.00" y="335.30" font-size="11" text-anchor="end" font-weight="normal" >0</text>
<line x1="388.50" y1="287.17" x2="393.50" y2="287.17" stroke="#555" stroke-width="1.1"/>
<text x="384.00" y="290.97" font-size="11" text-anchor="end" font-weight="normal" >50</text>
<line x1="388.50" y1="242.83" x2="393.50" y2="242.83" stroke="#555" stroke-width="1.1"/>
<text x="384.00" y="246.63" font-size="11" text-anchor="end" font-weight="normal" >100</text>
<line x1="388.50" y1="198.50" x2="393.50" y2="198.50" stroke="#555" stroke-width="1.1"/>
<text x="384.00" y="202.30" font-size="11" text-anchor="end" font-weight="normal" >150</text>
<text transform="translate(355.4,265.1) rotate(-90)" font-size="11.3" text-anchor="middle">Cell viability (%)</text>
<rect x="406.50" y="203.70" width="9.40" height="9.10" fill="#4a77b0"/>
<text x="420.40" y="210.90" font-size="9.7" text-anchor="start" font-weight="normal" >50 µg/mL</text>
<rect x="474.00" y="203.70" width="9.40" height="9.10" fill="#b54b47"/>
<text x="487.90" y="210.90" font-size="9.7" text-anchor="start" font-weight="normal" >100 µg/mL</text>
<rect x="406.50" y="220.50" width="9.40" height="9.10" fill="#97b15a"/>
<text x="420.40" y="227.60" font-size="9.7" text-anchor="start" font-weight="normal" >250 µg/mL</text>
<rect x="398.10" y="250.70" width="9.20" height="80.30" fill="#4a77b0"/>
<circle cx="399.30" cy="252.60" r="1.45" fill="#000"/>
<circle cx="401.60" cy="250.30" r="1.45" fill="#000"/>
<circle cx="403.90" cy="251.10" r="1.45" fill="#000"/>
<circle cx="406.30" cy="250.90" r="1.45" fill="#000"/>
<rect x="408.20" y="262.20" width="9.20" height="68.80" fill="#b54b47"/>
<line x1="412.80" y1="259.30" x2="412.80" y2="262.20" stroke="#f0a8a8" stroke-width="1"/>
<line x1="410.50" y1="259.30" x2="415.10" y2="259.30" stroke="#f0a8a8" stroke-width="1"/>
<circle cx="409.40" cy="263.10" r="1.45" fill="#000"/>
<circle cx="412.70" cy="258.10" r="1.45" fill="#000"/>
<circle cx="412.70" cy="262.00" r="1.45" fill="#000"/>
<circle cx="416.00" cy="262.80" r="1.45" fill="#000"/>
<rect x="418.30" y="272.10" width="9.20" height="58.90" fill="#97b15a"/>
<circle cx="419.70" cy="270.60" r="1.45" fill="#000"/>
<circle cx="419.70" cy="273.90" r="1.45" fill="#000"/>
<circle cx="423.00" cy="271.30" r="1.45" fill="#000"/>
<circle cx="426.50" cy="273.00" r="1.45" fill="#000"/>
<line x1="412.80" y1="331.50" x2="412.80" y2="336.50" stroke="#555" stroke-width="1.1"/>
<text transform="translate(418.70,345.60) rotate(-45)" font-size="11.6" text-anchor="end">HPAESS-1</text>
<rect x="438.03" y="248.80" width="9.20" height="82.20" fill="#4a77b0"/>
<circle cx="439.30" cy="249.90" r="1.45" fill="#000"/>
<circle cx="441.30" cy="247.20" r="1.45" fill="#000"/>
<circle cx="443.00" cy="248.80" r="1.45" fill="#000"/>
<circle cx="446.00" cy="248.80" r="1.45" fill="#000"/>
<rect x="448.13" y="258.70" width="9.20" height="72.30" fill="#b54b47"/>
<line x1="452.73" y1="255.20" x2="452.73" y2="258.70" stroke="#f0a8a8" stroke-width="1"/>
<line x1="450.43" y1="255.20" x2="455.03" y2="255.20" stroke="#f0a8a8" stroke-width="1"/>
<circle cx="449.50" cy="258.10" r="1.45" fill="#000"/>
<circle cx="449.50" cy="261.00" r="1.45" fill="#000"/>
<circle cx="452.60" cy="254.00" r="1.45" fill="#000"/>
<circle cx="455.90" cy="260.80" r="1.45" fill="#000"/>
<rect x="458.23" y="259.30" width="9.20" height="71.70" fill="#97b15a"/>
<circle cx="459.60" cy="260.80" r="1.45" fill="#000"/>
<circle cx="461.70" cy="258.90" r="1.45" fill="#000"/>
<circle cx="464.10" cy="259.90" r="1.45" fill="#000"/>
<circle cx="466.40" cy="258.90" r="1.45" fill="#000"/>
<line x1="452.73" y1="331.50" x2="452.73" y2="336.50" stroke="#555" stroke-width="1.1"/>
<text transform="translate(458.63,345.60) rotate(-45)" font-size="11.6" text-anchor="end">HPAESS-2</text>
<rect x="477.96" y="245.10" width="9.20" height="85.90" fill="#4a77b0"/>
<line x1="482.56" y1="243.70" x2="482.56" y2="245.10" stroke="#a9c1e3" stroke-width="1"/>
<line x1="480.26" y1="243.70" x2="484.86" y2="243.70" stroke="#a9c1e3" stroke-width="1"/>
<circle cx="478.90" cy="244.60" r="1.45" fill="#000"/>
<circle cx="478.90" cy="248.60" r="1.45" fill="#000"/>
<circle cx="485.70" cy="243.10" r="1.45" fill="#000"/>
<circle cx="485.70" cy="246.30" r="1.45" fill="#000"/>
<rect x="488.06" y="253.00" width="9.20" height="78.00" fill="#b54b47"/>
<line x1="492.66" y1="251.00" x2="492.66" y2="253.00" stroke="#f0a8a8" stroke-width="1"/>
<line x1="490.36" y1="251.00" x2="494.96" y2="251.00" stroke="#f0a8a8" stroke-width="1"/>
<circle cx="489.20" cy="254.40" r="1.45" fill="#000"/>
<circle cx="492.70" cy="252.80" r="1.45" fill="#000"/>
<circle cx="496.00" cy="250.50" r="1.45" fill="#000"/>
<circle cx="496.00" cy="254.40" r="1.45" fill="#000"/>
<rect x="498.16" y="253.00" width="9.20" height="78.00" fill="#97b15a"/>
<circle cx="499.50" cy="253.30" r="1.45" fill="#000"/>
<circle cx="501.80" cy="252.10" r="1.45" fill="#000"/>
<circle cx="504.10" cy="253.00" r="1.45" fill="#000"/>
<circle cx="506.50" cy="252.80" r="1.45" fill="#000"/>
<line x1="492.66" y1="331.50" x2="492.66" y2="336.50" stroke="#555" stroke-width="1.1"/>
<text transform="translate(498.56,345.60) rotate(-45)" font-size="11.6" text-anchor="end">HPAESS-3</text>
<rect x="517.89" y="240.80" width="9.20" height="90.20" fill="#4a77b0"/>
<circle cx="519.00" cy="241.90" r="1.45" fill="#000"/>
<circle cx="521.00" cy="239.60" r="1.45" fill="#000"/>
<circle cx="523.10" cy="240.40" r="1.45" fill="#000"/>
<circle cx="525.60" cy="240.40" r="1.45" fill="#000"/>
<rect x="527.99" y="249.30" width="9.20" height="81.70" fill="#b54b47"/>
<circle cx="529.10" cy="247.80" r="1.45" fill="#000"/>
<circle cx="529.10" cy="250.90" r="1.45" fill="#000"/>
<circle cx="532.40" cy="249.30" r="1.45" fill="#000"/>
<circle cx="535.90" cy="250.10" r="1.45" fill="#000"/>
<rect x="538.09" y="253.60" width="9.20" height="77.40" fill="#97b15a"/>
<circle cx="539.40" cy="254.00" r="1.45" fill="#000"/>
<circle cx="541.70" cy="253.00" r="1.45" fill="#000"/>
<circle cx="544.10" cy="253.30" r="1.45" fill="#000"/>
<circle cx="546.20" cy="253.00" r="1.45" fill="#000"/>
<line x1="532.59" y1="331.50" x2="532.59" y2="336.50" stroke="#555" stroke-width="1.1"/>
<text transform="translate(538.49,345.60) rotate(-45)" font-size="11.6" text-anchor="end">HPAESS-4</text>
<rect x="557.82" y="243.70" width="9.20" height="87.30" fill="#4a77b0"/>
<circle cx="559.00" cy="243.90" r="1.45" fill="#000"/>
<circle cx="561.30" cy="243.10" r="1.45" fill="#000"/>
<circle cx="563.60" cy="243.70" r="1.45" fill="#000"/>
<circle cx="566.00" cy="243.70" r="1.45" fill="#000"/>
<rect x="567.92" y="245.40" width="9.20" height="85.60" fill="#b54b47"/>
<circle cx="569.10" cy="244.30" r="1.45" fill="#000"/>
<circle cx="569.10" cy="247.80" r="1.45" fill="#000"/>
<circle cx="572.60" cy="246.00" r="1.45" fill="#000"/>
<circle cx="576.10" cy="246.60" r="1.45" fill="#000"/>
<rect x="578.02" y="251.30" width="9.20" height="79.70" fill="#97b15a"/>
<line x1="582.62" y1="249.30" x2="582.62" y2="251.30" stroke="#cfe0a8" stroke-width="1"/>
<line x1="580.32" y1="249.30" x2="584.92" y2="249.30" stroke="#cfe0a8" stroke-width="1"/>
<circle cx="579.30" cy="252.10" r="1.45" fill="#000"/>
<circle cx="582.80" cy="248.90" r="1.45" fill="#000"/>
<circle cx="582.80" cy="251.30" r="1.45" fill="#000"/>
<circle cx="586.30" cy="252.10" r="1.45" fill="#000"/>
<line x1="572.52" y1="331.50" x2="572.52" y2="336.50" stroke="#555" stroke-width="1.1"/>
<text transform="translate(578.42,345.60) rotate(-45)" font-size="11.6" text-anchor="end">HPAESS-5</text>
</svg>
</body></html>
